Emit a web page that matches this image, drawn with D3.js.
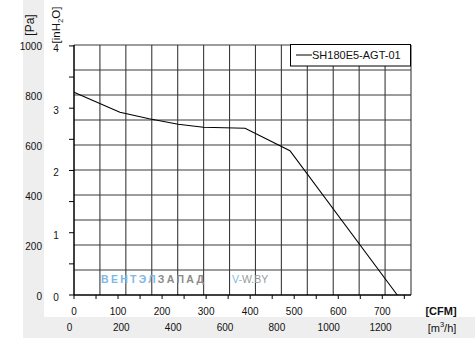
<!DOCTYPE html>
<html>
<head>
<meta charset="utf-8">
<script src="https://cdn.jsdelivr.net/npm/d3@7"></script>
<style>
  html, body { margin: 0; padding: 0; background: #fff; }
  svg { display: block; font-family: "Liberation Sans", Arial, sans-serif; }
</style>
</head>
<body>
<svg id="chart" width="475" height="343"></svg>
<script>
// Fan curve: airflow (m³/h) vs static pressure (Pa)
const flowM3h   = [0, 177, 290, 402, 499, 660, 833, 1247];
const pressurePa = [811, 731, 705, 683, 671, 667, 577, 0];
const seriesName = "SH180E5-AGT-01";

const paTicks    = [0, 200, 400, 600, 800, 1000];
const inH2OTicks = [0, 1, 2, 3, 4];
const cfmTicks   = [0, 100, 200, 300, 400, 500, 600, 700];
const m3hTicks   = [0, 200, 400, 600, 800, 1000, 1200];

const PA_PER_INH2O = 249.089;
const M3H_PER_CFM = 1.699;

const svg = d3.select("#chart");
const W = 475, H = 343;
const plot = { left: 74, right: 411, top: 45, bottom: 295 };

// shaded margins
svg.append("rect").attr("x", 23).attr("y", 0).attr("width", 21).attr("height", 338).attr("fill", "#eeeeee");
svg.append("rect").attr("x", 23).attr("y", 317).attr("width", W - 23).attr("height", 21).attr("fill", "#eeeeee");

const x = d3.scaleLinear().domain([0, 1300]).range([plot.left, plot.right]);
const y = d3.scaleLinear().domain([0, 1000]).range([plot.bottom, plot.top]);

// grid
const grid = svg.append("g").attr("stroke", "#3a3a3a").attr("stroke-width", 1.1);
grid.selectAll("line.v").data(d3.range(100, 1301, 100)).enter().append("line")
  .attr("x1", d => x(d)).attr("x2", d => x(d))
  .attr("y1", plot.top).attr("y2", plot.bottom);
grid.selectAll("line.h").data(d3.range(100, 1001, 100)).enter().append("line")
  .attr("x1", plot.left).attr("x2", plot.right)
  .attr("y1", d => y(d)).attr("y2", d => y(d));

// watermark
const wm = svg.append("text").attr("x", 101).attr("y", 283)
  .attr("font-size", 10.5).attr("font-weight", "bold").attr("letter-spacing", 1)
  .attr("textLength", 104).attr("lengthAdjust", "spacing");
wm.append("tspan").attr("fill", "#7fb8e4").text("ВЕНТЭЛ");
wm.append("tspan").attr("fill", "#8a8a8a").text("ЗАПАД");
const wm2 = svg.append("text").attr("x", 232).attr("y", 283).attr("font-size", 10.5);
wm2.append("tspan").attr("fill", "#7fb8e4").text("V-");
wm2.append("tspan").attr("fill", "#9a9a9a").text("W.BY");

// axes lines
svg.append("line").attr("x1", plot.left).attr("x2", plot.left)
  .attr("y1", plot.top).attr("y2", plot.bottom).attr("stroke", "#000").attr("stroke-width", 1.5);
svg.append("line").attr("x1", plot.left).attr("x2", plot.right)
  .attr("y1", plot.bottom).attr("y2", plot.bottom).attr("stroke", "#000").attr("stroke-width", 1.5);

// inH2O ticks (left side)
const yIn = d3.scaleLinear().domain([0, 1000 / PA_PER_INH2O]).range([plot.bottom, plot.top]);
svg.append("g").selectAll("line").data(d3.range(0, 4.01, 0.5)).enter().append("line")
  .attr("x1", plot.left - 5).attr("x2", plot.left)
  .attr("y1", d => yIn(d)).attr("y2", d => yIn(d))
  .attr("stroke", "#000").attr("stroke-width", 1);
svg.append("g").selectAll("text").data(inH2OTicks).enter().append("text")
  .attr("x", 56).attr("y", d => yIn(d) + 6)
  .attr("text-anchor", "middle").attr("font-size", 10).attr("fill", "#111")
  .text(d => d);

// Pa labels
svg.append("g").selectAll("text").data(paTicks).enter().append("text")
  .attr("x", 42).attr("y", d => y(d) + 4.5)
  .attr("text-anchor", "end").attr("font-size", 10).attr("fill", "#111")
  .text(d => d);

// CFM ticks (bottom)
const xCfm = d3.scaleLinear().domain([0, 1300 / M3H_PER_CFM]).range([plot.left, plot.right]);
svg.append("g").selectAll("line").data(d3.range(0, 751, 50)).enter().append("line")
  .attr("x1", d => xCfm(d)).attr("x2", d => xCfm(d))
  .attr("y1", plot.bottom).attr("y2", plot.bottom + 4)
  .attr("stroke", "#000").attr("stroke-width", 1);
svg.append("g").selectAll("text").data(cfmTicks).enter().append("text")
  .attr("x", d => xCfm(d)).attr("y", 314.5)
  .attr("text-anchor", "middle").attr("font-size", 10).attr("fill", "#111")
  .text(d => d);

// m³/h labels
svg.append("g").selectAll("text").data(m3hTicks).enter().append("text")
  .attr("x", d => x(d) - 4.5).attr("y", 330.5)
  .attr("text-anchor", "middle").attr("font-size", 10).attr("fill", "#111")
  .text(d => d);

// axis titles
svg.append("text").attr("transform", "translate(34,25) rotate(-90)")
  .attr("text-anchor", "middle").attr("font-size", 12).attr("fill", "#111").text("[Pa]");
const tIn = svg.append("text").attr("transform", "translate(60,25) rotate(-90)")
  .attr("text-anchor", "middle").attr("font-size", 11.5).attr("fill", "#111");
tIn.append("tspan").text("[inH");
tIn.append("tspan").attr("font-size", 8).attr("dy", 3).text("2");
tIn.append("tspan").attr("dy", -3).text("O]");

svg.append("text").attr("x", 441).attr("y", 315).attr("text-anchor", "middle")
  .attr("font-size", 11).attr("font-weight", "bold").attr("fill", "#111").text("[CFM]");
const tM = svg.append("text").attr("x", 442).attr("y", 331.5).attr("text-anchor", "middle")
  .attr("font-size", 11).attr("fill", "#111");
tM.append("tspan").text("[m");
tM.append("tspan").attr("font-size", 7.5).attr("dy", -5).text("3");
tM.append("tspan").attr("dy", 5).text("/h]");

// curve
const line = d3.line().x(d => x(d[0])).y(d => y(d[1]));
svg.append("path")
  .datum(flowM3h.map((f, i) => [f, pressurePa[i]]))
  .attr("d", line).attr("fill", "none").attr("stroke", "#000").attr("stroke-width", 1.1);

// legend
const lg = svg.append("g");
lg.append("rect").attr("x", 290.5).attr("y", 44.5).attr("width", 120).attr("height", 21.5)
  .attr("fill", "#fff").attr("stroke", "#000").attr("stroke-width", 1);
lg.append("line").attr("x1", 296).attr("x2", 312).attr("y1", 55).attr("y2", 55)
  .attr("stroke", "#000").attr("stroke-width", 1);
lg.append("text").attr("x", 312).attr("y", 59).attr("font-size", 11).attr("fill", "#111").text(seriesName);
</script>
</body>
</html>
